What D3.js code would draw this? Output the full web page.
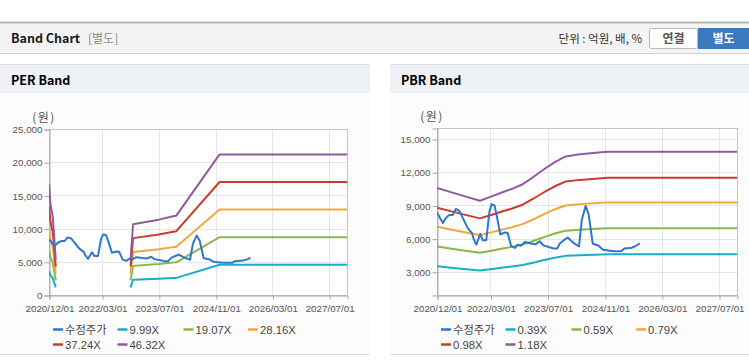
<!DOCTYPE html>
<html><head><meta charset="utf-8">
<script src="https://cdn.jsdelivr.net/npm/d3@7"></script>
<style>
body{margin:0;background:#fff;}
svg{display:block;font-family:"Liberation Sans",Arial,sans-serif;}
</style></head>
<body><svg id="c" width="749" height="364"></svg>
<script>
// ---------- DATA ----------
const xTickLabels = ["2020/12/01","2022/03/01","2023/07/01","2024/11/01","2026/03/01","2027/07/01"];
const perYTicks = [0,5000,10000,15000,20000,25000];
const pbrYTicks = [3000,6000,9000,12000,15000];

const priceDates = ["2020-12-01","2021-01-20","2021-02-15","2021-03-15","2021-04-15","2021-05-10","2021-06-10","2021-07-08","2021-08-20","2021-09-25","2021-10-10","2021-11-01","2021-12-05","2021-12-25","2022-01-25","2022-02-20","2022-03-10","2022-04-05","2022-04-25","2022-05-25","2022-07-01","2022-07-25","2022-08-25","2022-09-25","2022-10-20","2022-11-15","2022-12-20","2023-02-10","2023-03-20","2023-04-25","2023-05-25","2023-06-20","2023-07-25","2023-08-20","2023-09-20","2023-10-15","2023-11-20","2023-12-20","2024-02-05","2024-03-25","2024-04-18","2024-05-20","2024-06-15","2024-07-20","2024-09-05","2024-10-15","2024-11-15","2025-01-10","2025-02-15","2025-03-20","2025-04-15","2025-06-20","2025-07-20","2025-08-25"];
const priceValues = [8350,7420,7870,8130,8140,8680,8500,7870,6950,6500,5950,5450,6430,5860,5860,8400,9100,9000,8000,6370,6560,6530,5330,5150,5450,5350,5700,5560,5480,5760,5400,5300,5200,5100,5100,5580,5880,6090,5620,5300,7700,8950,8200,5530,5380,5000,4950,4850,4850,4850,5100,5180,5330,5580];

// PER band (null = no data)
const perDates = ["2020-12-01","2020-12-12","2021-01-02","2021-01-28","2022-10-31","2022-11-01","2022-11-22","2023-07-01","2023-11-01","2023-11-28","2024-12-03","2027-12-01"];
const per999  = [3596,2997,2547,1149,null,1149,2298,2448,2557,2577,4565,4565];
const per1907 = [6865,5721,4863,2193,null,2193,4386,4672,4882,4920,8715,8715];
const per2816 = [10138,8448,7181,3238,null,3238,6477,6899,7209,7265,12869,12869];
const per3724 = [13406,11172,9496,4283,null,4283,8565,9124,9533,9608,17019,17019];
const per4632 = [16675,13896,11812,5327,null,5327,10654,11348,11858,11951,21168,21168];
const perLabels = ["수정주가","9.99X","19.07X","28.16X","37.24X","46.32X"];

// PBR band
const pbrDates = ["2020-12-01","2021-06-01","2021-12-01","2022-03-01","2022-06-01","2022-09-01","2022-12-01","2023-03-01","2023-06-01","2023-09-01","2023-12-01","2024-04-01","2024-10-01","2024-12-01","2027-12-01"];
const pbr039 = [3494,3303,3116,3229,3354,3471,3608,3822,4056,4271,4438,4501,4563,4579,4579];
const pbr059 = [5286,4997,4714,4885,5074,5251,5458,5782,6136,6461,6714,6809,6903,6927,6927];
const pbr079 = [7078,6691,6312,6541,6794,7031,7308,7742,8216,8651,8990,9117,9243,9275,9275];
const pbr098 = [8781,8301,7830,8114,8428,8722,9065,9604,10192,10731,11152,11309,11466,11505,11505];
const pbr118 = [10573,9995,9428,9770,10148,10502,10915,11564,12272,12921,13428,13617,13806,13853,13853];
const pbrLabels = ["수정주가","0.39X","0.59X","0.79X","0.98X","1.18X"];

const colors = ["#2f77cc","#19adc6","#8ab64e","#f3a73b","#cc3a2d","#925a9e"];

// ---------- DRAW ----------
const parse = d3.timeParse("%Y-%m-%d");
const parseT = d3.timeParse("%Y/%m/%d");
const fmtT = d3.timeFormat("%Y/%m/%d");
const svg = d3.select("#c");

// header
svg.append("rect").attr("x",0).attr("y",22).attr("width",749).attr("height",31).attr("fill","#f4f4f4");
svg.append("line").attr("x1",0).attr("x2",749).attr("y1",22.5).attr("y2",22.5).attr("stroke","#b5b5b5").attr("stroke-width",2);
svg.append("line").attr("x1",0).attr("x2",749).attr("y1",53.5).attr("y2",53.5).attr("stroke","#cfcfcf");
svg.append("text").attr("x",11).attr("y",43).attr("font-size",12.5).attr("font-weight","bold").attr("fill","#1a1a1a").attr("font-family","'Noto Sans CJK KR','Liberation Sans',sans-serif").text("Band Chart");
svg.append("text").attr("x",88).attr("y",43).attr("font-size",12).attr("fill","#8a8a8a").attr("font-family","'Noto Sans CJK KR',sans-serif").text("[별도]");
svg.append("text").attr("x",642).attr("y",43).attr("text-anchor","end").attr("font-size",11.5).attr("fill","#333").attr("font-family","'Noto Sans CJK KR',sans-serif").text("단위 : 억원, 배, %");
svg.append("rect").attr("x",649.5).attr("y",28.5).attr("width",48).attr("height",20).attr("rx",2).attr("fill","#fff").attr("stroke","#b8b8b8");
svg.append("text").attr("x",673.5).attr("y",43).attr("text-anchor","middle").attr("font-size",12).attr("font-weight","bold").attr("fill","#555").attr("font-family","'Noto Sans CJK KR',sans-serif").text("연결");
svg.append("rect").attr("x",698).attr("y",28).attr("width",51).attr("height",21).attr("fill","#3b78bd");
svg.append("text").attr("x",723.5).attr("y",43).attr("text-anchor","middle").attr("font-size",12).attr("font-weight","bold").attr("fill","#fff").attr("font-family","'Noto Sans CJK KR',sans-serif").text("별도");

function panel(cfg){
  const g = svg.append("g");
  g.append("rect").attr("x",cfg.px).attr("y",64).attr("width",cfg.pw).attr("height",29).attr("fill","#eef1f6");
  g.append("rect").attr("x",cfg.px).attr("y",93).attr("width",cfg.pw).attr("height",261).attr("fill","#fcfcfc");
  g.append("line").attr("x1",cfg.px).attr("x2",cfg.px+cfg.pw).attr("y1",64.5).attr("y2",64.5).attr("stroke","#dcdcdc");
  g.append("line").attr("x1",cfg.px).attr("x2",cfg.px+cfg.pw).attr("y1",354.5).attr("y2",354.5).attr("stroke","#dcdcdc");
  g.append("text").attr("x",cfg.px+11).attr("y",85).attr("font-size",12.5).attr("font-weight","bold").attr("fill","#000").attr("font-family","'Noto Sans CJK KR','Liberation Sans',sans-serif").text(cfg.title);

  const x = d3.scaleTime().domain([parse("2020-12-01"),parse("2027-12-01")]).range([cfg.l,cfg.r]);
  const y = d3.scaleLinear().domain(cfg.yDomain).range([cfg.b,cfg.t]);

  g.append("rect").attr("x",cfg.l).attr("y",cfg.t).attr("width",cfg.r-cfg.l).attr("height",cfg.b-cfg.t).attr("fill","#fff");
  // grid
  const xt = xTickLabels.map(s=>parseT(s));
  g.selectAll(null).data(xt).enter().append("line")
    .attr("x1",d=>Math.round(x(d))+0.5).attr("x2",d=>Math.round(x(d))+0.5).attr("y1",cfg.t).attr("y2",cfg.b).attr("stroke","#e6e6e6");
  g.selectAll(null).data(cfg.yTicks).enter().append("line")
    .attr("x1",cfg.l).attr("x2",cfg.r).attr("y1",d=>Math.round(y(d))+0.5).attr("y2",d=>Math.round(y(d))+0.5).attr("stroke","#e6e6e6");
  // frame
  g.append("rect").attr("x",cfg.l+0.5).attr("y",cfg.t+0.5).attr("width",cfg.r-cfg.l).attr("height",cfg.b-cfg.t).attr("fill","none").attr("stroke","#c4c4c4");

  // axes
  const ya = g.append("g").attr("transform",`translate(${cfg.l+0.5},0.5)`)
    .call(d3.axisLeft(y).tickValues(cfg.yTicks).tickSize(5).tickPadding(2).tickFormat(d3.format(",")));
  const xa = g.append("g").attr("transform",`translate(0.5,${cfg.b+0.5})`)
    .call(d3.axisBottom(x).tickValues(xt).tickSize(4).tickPadding(6).tickFormat(fmtT));
  [ya,xa].forEach(a=>{
    a.select(".domain").attr("stroke","#a8a8a8");
    a.selectAll(".tick line").attr("stroke","#a8a8a8");
    a.selectAll("text").attr("fill","#555").attr("font-size",9.8).attr("font-family","'Liberation Sans',Arial,sans-serif");
  });
  g.append("text").attr("x",cfg.l-5).attr("y",cfg.t-7).attr("text-anchor","middle").attr("font-size",12).attr("letter-spacing",1.5).attr("fill","#555").attr("font-family","'Noto Sans CJK KR',sans-serif").text("(원)");

  // clip
  const cid = "clip"+cfg.title.replace(/\s/g,"");
  svg.append("clipPath").attr("id",cid).append("rect").attr("x",cfg.l).attr("y",cfg.t).attr("width",cfg.r-cfg.l).attr("height",cfg.b-cfg.t);
  const lines = g.append("g").attr("clip-path",`url(#${cid})`);
  const line = d3.line().defined(d=>d.v!=null).x(d=>x(d.d)).y(d=>y(d.v));
  const bandSeries = cfg.bands.map(vals=>cfg.dates.map((s,i)=>({d:parse(s),v:vals[i]})));
  bandSeries.forEach((s,i)=>{
    lines.append("path").datum(s).attr("d",line).attr("fill","none").attr("stroke",colors[i+1]).attr("stroke-width",2).attr("stroke-linejoin","round");
  });
  const ps = priceDates.map((s,i)=>({d:parse(s),v:priceValues[i]}));
  lines.append("path").datum(ps).attr("d",line).attr("fill","none").attr("stroke",colors[0]).attr("stroke-width",2).attr("stroke-linejoin","round");

  // legend
  const offs = [0,64.5,130.5,195];
  cfg.labels.forEach((lab,i)=>{
    const row = i<4?0:1, col = i<4?i:i-4;
    const lx = cfg.l+4+offs[col], ly = row===0?329.5:344.5;
    g.append("line").attr("x1",lx).attr("x2",lx+10).attr("y1",ly).attr("y2",ly).attr("stroke",colors[i]).attr("stroke-width",2.5);
    g.append("text").attr("x",lx+12).attr("y",ly+4).attr("font-size",11.3).attr("fill","#444")
      .attr("font-family","'Liberation Sans','Noto Sans CJK KR',sans-serif").text(lab);
  });
}

panel({title:"PER Band",px:0,pw:370,l:49,r:347,t:129,b:295,yDomain:[0,25000],yTicks:perYTicks,
  dates:perDates,bands:[per999,per1907,per2816,per3724,per4632],labels:perLabels});
panel({title:"PBR Band",px:390,pw:359,l:437,r:737,t:128,b:295,yDomain:[900,16000],yTicks:pbrYTicks,
  dates:pbrDates,bands:[pbr039,pbr059,pbr079,pbr098,pbr118],labels:pbrLabels});
</script></body></html>
